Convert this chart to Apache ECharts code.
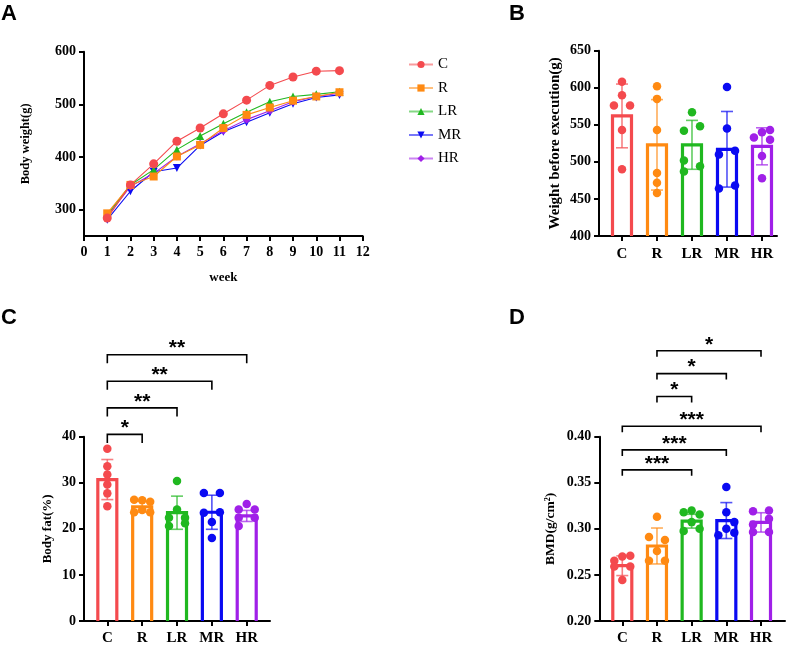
<!DOCTYPE html>
<html>
<head>
<meta charset="utf-8">
<script src="https://cdn.jsdelivr.net/npm/echarts@6/dist/echarts.min.js"></script>
<style>
  html, body { margin: 0; padding: 0; background: #fff; }
  #chart { width: 787px; height: 646px; }
</style>
</head>
<body>
<div id="chart"></div>
<script>
// ---- values ----
const groups = ['C', 'R', 'LR', 'MR', 'HR']
const weeks = [1, 2, 3, 4, 5, 6, 7, 8, 9, 10, 11]
const bwC = [284, 347, 387, 430, 455, 482, 508, 536, 552, 563, 564]
const bwR = [293, 347, 363, 401, 423, 455, 480, 494, 507, 515, 523]
const bwLR = [290, 347, 376, 414, 440, 463, 485, 505, 515, 519, 524]
const bwMR = [281, 335, 372, 379, 422, 448, 466, 484, 501, 513, 518]
const bwHR = [287, 344, 369, 401, 425, 450, 471, 488, 505, 515, 521]

// B: weight before execution (g)
const weightMean = [562, 523, 523, 517, 521]
const weightSd = [43, 61, 33, 51, 25]
const weightPts = [
  [608, 590, 576, 576, 543, 490],
  [602, 585, 543, 485, 472, 458],
  [567, 542, 548, 502, 487, 494],
  [601, 545, 515, 510, 468, 464],
  [533, 540, 543, 530, 508, 478]
]

// C: body fat (%)
const fatMean = [30.7, 24.8, 23.5, 23.6, 22.8]
const fatSd = [4.35, 1.2, 3.6, 3.7, 1.2]
const fatPts = [
  [37.4, 33.6, 31.8, 29.6, 27.7, 24.9],
  [26.3, 26.2, 25.9, 24.1, 23.6, 23.6],
  [30.4, 24.2, 22.4, 22.4, 20.6, 21.2],
  [27.8, 27.8, 23.5, 23.6, 21.5, 18.0],
  [25.4, 24.2, 24.2, 22.4, 22.4, 20.6]
]
const fatSig = [[0, 1, '*'], [0, 2, '**'], [0, 3, '**'], [0, 4, '**']]
const fatSigY = [40.5, 46.25, 52.05, 57.8]

// D: BMD (g/cm2)
const bmdMean = [0.260, 0.2814, 0.3083, 0.309, 0.307]
const bmdSd = [0.0107, 0.0195, 0.0075, 0.0195, 0.0105]
const bmdPts = [
  [0.2707, 0.2700, 0.2653, 0.2592, 0.2592, 0.2445],
  [0.3131, 0.2911, 0.2879, 0.2760, 0.2653, 0.2653],
  [0.3180, 0.3199, 0.3156, 0.3073, 0.2976, 0.3001],
  [0.3454, 0.3180, 0.3073, 0.3001, 0.2930, 0.2959],
  [0.3191, 0.3199, 0.3110, 0.3048, 0.2965, 0.2965]
]
const bmdSig = [[0, 2, '***'], [0, 3, '***'], [0, 4, '***'], [1, 2, '*'], [1, 3, '*'], [1, 4, '*']]
const bmdSigY = [0.364, 0.3857, 0.4114, 0.4437, 0.4685, 0.4933]

// ---- layout / style ----
// dot columns (-1 left, 0 centre, 1 right) as scattered in the figure
const weightCols = [[0, 0, -1, 1, 0, 0], [0, 0, 0, 0, 0, 0], [0, -1, 1, -1, -1, 1], [0, 0, 1, -1, 1, -1], [-1, 0, 1, 1, 0, 0]]
const fatCols = [[0, 0, 0, 0, 0, 0], [-1, 0, 1, 0, -1, 1], [0, 0, -1, 1, -1, 1], [-1, 1, -1, 1, 0, 0], [0, -1, 1, -1, 1, -1]]
const bmdCols = [[1, 0, -1, -1, 1, 0], [0, -1, 1, 0, -1, 1], [-1, 0, 1, 0, -1, 1], [0, 0, 1, 0, -1, 1], [-1, 1, 1, -1, -1, 1]]

const colors = ['#f44a4e', '#ff8a12', '#20b820', '#0a0af2', '#a020e8']
const serif = 'Liberation Serif'
const black = '#000'

const axisLine = { show: true, onZero: false, lineStyle: { color: black, width: 2 } }
const tickOf = (vals) => ({ show: true, length: 5, customValues: vals, lineStyle: { color: black, width: 2 } })
const labelOf = (vals, size, fmt, margin) => ({
  show: true, customValues: vals, margin: margin || 8, color: black, fontFamily: serif,
  fontWeight: 'bold', fontSize: size, formatter: fmt
})
const nameStyle = (size) => ({ color: black, fontFamily: serif, fontWeight: 'bold', fontSize: size })
const catIdx = [0, 1, 2, 3, 4]
const catFmt = (v) => groups[Math.round(v)]

function barSeries(grid, means, sds, yMin) {
  return {
    type: 'custom',
    xAxisIndex: grid, yAxisIndex: grid,
    z: 2,
    data: means.map((m, i) => [i, m, sds[i]]),
    renderItem: function(params, api) {
      const i = api.value(0)
      const m = api.value(1)
      const s = api.value(2)
      const top = api.coord([i, m])
      const base = api.coord([i, yMin])
      const hi = api.coord([i, m + s])
      const lo = api.coord([i, m - s])
      const c = colors[i]
      const half = 9.5
      const cap = 6
      return {
        type: 'group',
        children: [
          { type: 'polyline', shape: { points: [[top[0] - half, base[1]], [top[0] - half, top[1]], [top[0] + half, top[1]], [top[0] + half, base[1]]] },
            style: { fill: null, stroke: c, lineWidth: 3.2 } },
          { type: 'line', shape: { x1: hi[0], y1: hi[1], x2: lo[0], y2: lo[1] }, style: { stroke: c, lineWidth: 1.6, opacity: 0.7 } },
          { type: 'line', shape: { x1: hi[0] - cap, y1: hi[1], x2: hi[0] + cap, y2: hi[1] }, style: { stroke: c, lineWidth: 1.6, opacity: 0.7 } },
          { type: 'line', shape: { x1: lo[0] - cap, y1: lo[1], x2: lo[0] + cap, y2: lo[1] }, style: { stroke: c, lineWidth: 1.6, opacity: 0.7 } }
        ]
      }
    }
  }
}

function dotSeries(grid, pts, cols, step) {
  const data = []
  pts.forEach((arr, i) => {
    arr.forEach((v, k) => {
      data.push({ value: [i + cols[i][k] * step, v], itemStyle: { color: colors[i], opacity: 1 } })
    })
  })
  return {
    type: 'scatter', xAxisIndex: grid, yAxisIndex: grid, z: 3,
    symbol: 'circle', symbolSize: 8.5, itemStyle: { opacity: 1 }, data: data
  }
}

function sigSeries(grid, pairs, levels, tick) {
  return {
    type: 'custom', xAxisIndex: grid, yAxisIndex: grid, z: 4, clip: false,
    data: pairs.map((p, k) => [p[0], levels[k], p[1], k]),
    renderItem: function(params, api) {
      const k = api.value(3)
      const p1 = api.coord([api.value(0), api.value(1)])
      const p2 = api.coord([api.value(2), api.value(1)])
      return {
        type: 'group',
        children: [
          { type: 'polyline', shape: { points: [[p1[0], p1[1] + tick], [p1[0], p1[1]], [p2[0], p2[1]], [p2[0], p2[1] + tick]] },
            style: { fill: null, stroke: black, lineWidth: 1.6 } },
          { type: 'text', x: (p1[0] + p2[0]) / 2, y: p1[1] - 6,
            style: { text: pairs[k][2], fill: black, font: 'bold 21px "Liberation Sans"', align: 'center', verticalAlign: 'middle' } }
        ]
      }
    }
  }
}

const lineDefs = [
  { name: 'MR', data: bwMR, symbol: 'triangle', rotate: 180, size: 8, c: 3 },
  { name: 'HR', data: bwHR, symbol: 'diamond', rotate: 0, size: 8, c: 4 },
  { name: 'LR', data: bwLR, symbol: 'triangle', rotate: 0, size: 8, c: 2 },
  { name: 'R', data: bwR, symbol: 'rect', rotate: 0, size: 8, c: 1 },
  { name: 'C', data: bwC, symbol: 'circle', rotate: 0, size: 9, c: 0 }
]
const lineSeries = lineDefs.map(d => ({
  name: d.name, type: 'line', xAxisIndex: 0, yAxisIndex: 0, z: 3,
  symbol: d.symbol, symbolRotate: d.rotate, symbolSize: d.size,
  data: weeks.map((w, i) => [w, d.data[i]]),
  itemStyle: { color: colors[d.c] },
  lineStyle: { color: colors[d.c], width: 1.1 }
}))

const option = {
  backgroundColor: '#fff',
  animation: false,
  grid: [
    { left: 84, top: 51.7, width: 278.7, height: 184.3 },
    { left: 599, top: 50.7, width: 178, height: 185.3 },
    { left: 84, top: 436.7, width: 186, height: 185.6 },
    { left: 599.3, top: 436.7, width: 185.7, height: 185.6 }
  ],
  xAxis: [
    { gridIndex: 0, type: 'value', min: 0, max: 12, interval: 1, axisLine: axisLine,
      axisTick: { show: true, length: 5, lineStyle: { color: black, width: 2 } },
      axisLabel: { margin: 9, color: black, fontFamily: serif, fontWeight: 'bold', fontSize: 14 },
      splitLine: { show: false },
      name: 'week', nameLocation: 'middle', nameGap: 35, nameTextStyle: nameStyle(13) },
    { gridIndex: 1, type: 'value', min: -0.657, max: 4.429, axisLine: axisLine,
      axisTick: tickOf(catIdx), axisLabel: labelOf(catIdx, 15, catFmt, 11), splitLine: { show: false } },
    { gridIndex: 2, type: 'value', min: -0.669, max: 4.668, axisLine: axisLine,
      axisTick: tickOf(catIdx), axisLabel: labelOf(catIdx, 15, catFmt, 10), splitLine: { show: false } },
    { gridIndex: 3, type: 'value', min: -0.663, max: 4.692, axisLine: axisLine,
      axisTick: tickOf(catIdx), axisLabel: labelOf(catIdx, 15, catFmt, 10), splitLine: { show: false } }
  ],
  yAxis: [
    { gridIndex: 0, type: 'value', min: 250, max: 600, interval: 50, axisLine: axisLine,
      axisTick: tickOf([300, 400, 500, 600]), axisLabel: labelOf([300, 400, 500, 600], 14),
      splitLine: { show: false },
      name: 'Body weight(g)', nameLocation: 'middle', nameGap: 52, nameTextStyle: nameStyle(12.5) },
    { gridIndex: 1, type: 'value', min: 400, max: 650, interval: 50, axisLine: axisLine,
      axisTick: { show: true, length: 5, lineStyle: { color: black, width: 2 } },
      axisLabel: { margin: 8, color: black, fontFamily: serif, fontWeight: 'bold', fontSize: 14 },
      splitLine: { show: false },
      name: 'Weight before execution(g)', nameLocation: 'middle', nameGap: 36, nameTextStyle: nameStyle(15) },
    { gridIndex: 2, type: 'value', min: 0, max: 40, interval: 10, axisLine: axisLine,
      axisTick: { show: true, length: 5, lineStyle: { color: black, width: 2 } },
      axisLabel: { margin: 8, color: black, fontFamily: serif, fontWeight: 'bold', fontSize: 14 },
      splitLine: { show: false },
      name: 'Body fat(%)', nameLocation: 'middle', nameGap: 30, nameTextStyle: nameStyle(13) },
    { gridIndex: 3, type: 'value', min: 0.2, max: 0.4, interval: 0.05, axisLine: axisLine,
      axisTick: { show: true, length: 5, lineStyle: { color: black, width: 2 } },
      axisLabel: { margin: 8, color: black, fontFamily: serif, fontWeight: 'bold', fontSize: 14,
        formatter: (v) => v.toFixed(2) },
      splitLine: { show: false },
      name: 'BMD(g/cm²)', nameLocation: 'middle', nameGap: 42, nameTextStyle: nameStyle(13.5) }
  ],
  legend: {
    orient: 'vertical', left: 403, top: 52, itemWidth: 24, itemHeight: 9, itemGap: 8.5,
    data: groups,
    lineStyle: { opacity: 0.55 },
    textStyle: { color: black, fontFamily: serif, fontSize: 15, padding: [0, 0, 0, 0] }
  },
  graphic: [
    { type: 'text', left: 1, top: 3, style: { text: 'A', font: 'bold 22px "Liberation Sans"', fill: black } },
    { type: 'text', left: 509, top: 3, style: { text: 'B', font: 'bold 22px "Liberation Sans"', fill: black } },
    { type: 'text', left: 1, top: 307, style: { text: 'C', font: 'bold 22px "Liberation Sans"', fill: black } },
    { type: 'text', left: 509, top: 307, style: { text: 'D', font: 'bold 22px "Liberation Sans"', fill: black } }
  ],
  series: [
    ...lineSeries,
    barSeries(1, weightMean, weightSd, 400),
    dotSeries(1, weightPts, weightCols, 0.23),
    barSeries(2, fatMean, fatSd, 0),
    dotSeries(2, fatPts, fatCols, 0.23),
    sigSeries(2, fatSig, fatSigY, 8.5),
    barSeries(3, bmdMean, bmdSd, 0.2),
    dotSeries(3, bmdPts, bmdCols, 0.23),
    sigSeries(3, bmdSig, bmdSigY, 6)
  ]
}

const chart = echarts.init(document.getElementById('chart'))
chart.setOption(option)
</script>
</body>
</html>
